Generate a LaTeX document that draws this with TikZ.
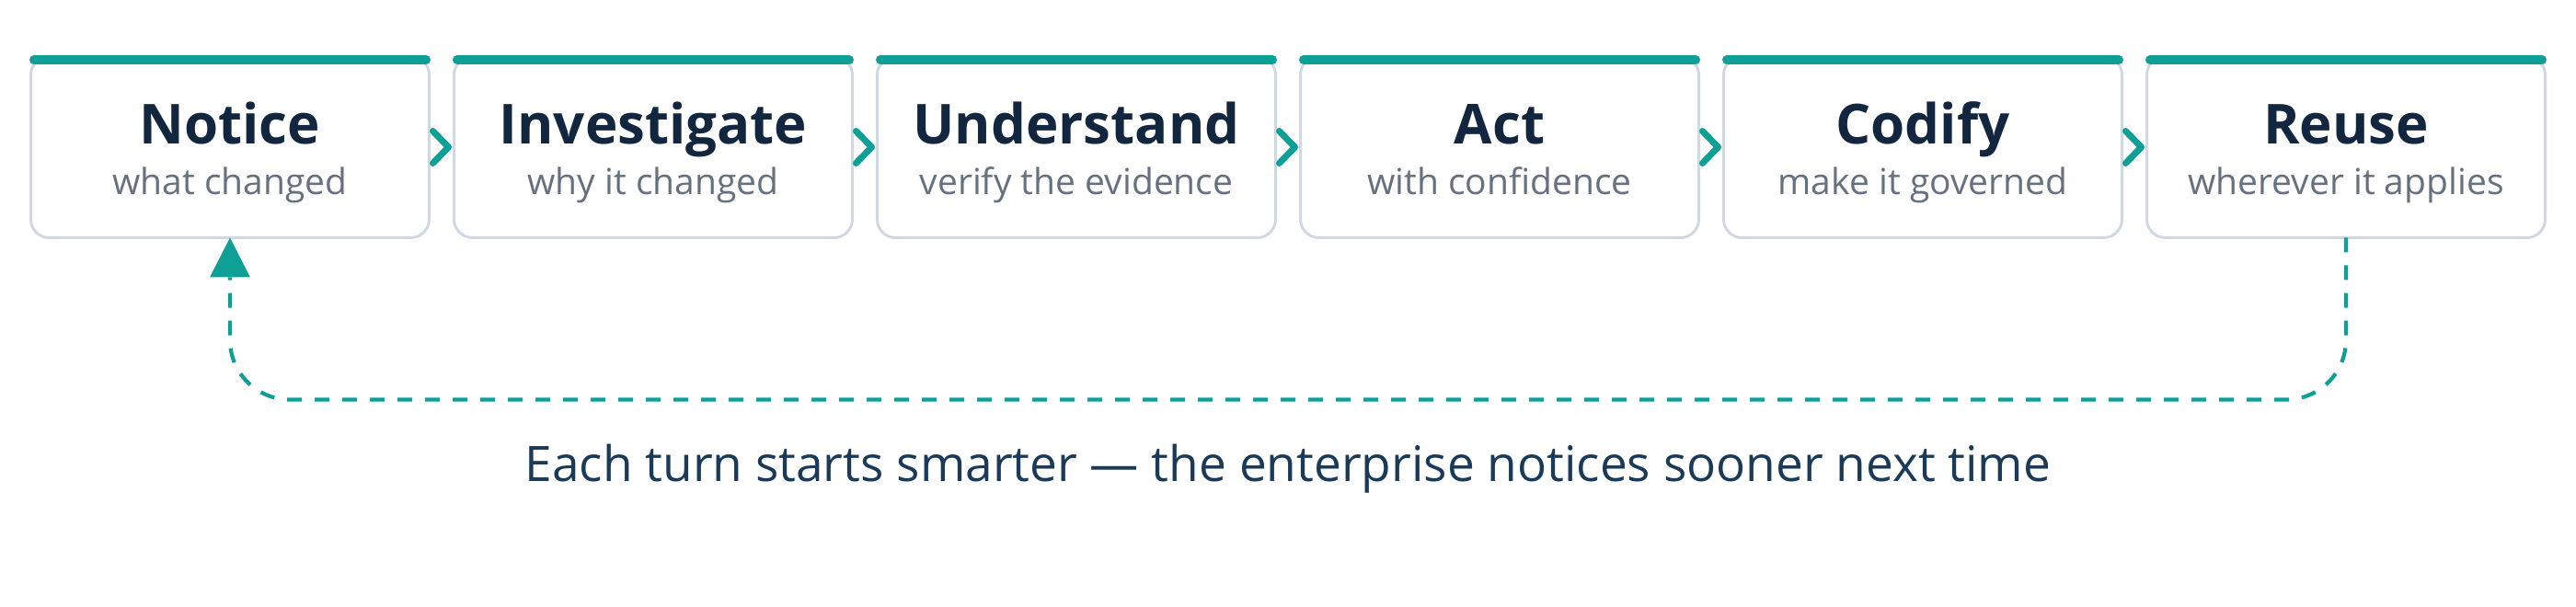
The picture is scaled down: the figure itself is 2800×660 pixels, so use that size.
\documentclass[tikz,border=0pt]{standalone}
\usepackage{fontspec}
\setmainfont{Open Sans}
\usepackage{tikz}
\usetikzlibrary{arrows.meta,positioning}
\definecolor{accent}{HTML}{0E9F97}
\definecolor{edge}{HTML}{CFD8E3}
\definecolor{ink}{HTML}{13263F}
\definecolor{muted}{HTML}{66717F}
\definecolor{note}{HTML}{1B3A57}

\begin{document}
\begin{tikzpicture}[x=1pt, y=1pt,
	stage/.style={draw=edge, line width=3pt, rounded corners=20pt, minimum width=433pt, minimum height=197pt, inner sep=0pt, outer sep=0pt, fill=white},
	topbar/.style={draw=accent, line width=10pt, line cap=round},
	headline/.style={anchor=base, inner sep=0pt, text=ink, font=\fontsize{60}{72}\selectfont\bfseries},
	subline/.style={anchor=base, inner sep=0pt, text=muted, font=\fontsize{39}{47}\selectfont},
	chev/.style={draw=accent, line width=7pt, line cap=round, line join=round},
	cycleback/.style={draw=accent, line width=4.2pt, dash pattern=on 16pt off 14pt, rounded corners=65pt, -{Triangle[width=44pt,length=43pt,line width=0pt]}},
	caption/.style={anchor=base, inner sep=0pt, text=note, font=\fontsize{53.2}{64}\selectfont}]
	\useasboundingbox (0,0) rectangle (2800,-660);
	% stages
	\node[stage] (s1) at (250,-160) {};
	\node[stage, right=27pt of s1] (s2) {};
	\node[stage, right=27pt of s2] (s3) {};
	\node[stage, right=27pt of s3] (s4) {};
	\node[stage, right=27pt of s4] (s5) {};
	\node[stage, right=27pt of s5] (s6) {};
	% top bars
	\draw[topbar] ([shift={(3.5,-3.5)}]s1.north west) -- ([shift={(-3.5,-3.5)}]s1.north east);
	\draw[topbar] ([shift={(3.5,-3.5)}]s2.north west) -- ([shift={(-3.5,-3.5)}]s2.north east);
	\draw[topbar] ([shift={(3.5,-3.5)}]s3.north west) -- ([shift={(-3.5,-3.5)}]s3.north east);
	\draw[topbar] ([shift={(3.5,-3.5)}]s4.north west) -- ([shift={(-3.5,-3.5)}]s4.north east);
	\draw[topbar] ([shift={(3.5,-3.5)}]s5.north west) -- ([shift={(-3.5,-3.5)}]s5.north east);
	\draw[topbar] ([shift={(3.5,-3.5)}]s6.north west) -- ([shift={(-3.5,-3.5)}]s6.north east);
	% labels
	\node[headline] (t1) at ([yshift=3pt]s1.center) {Notice};
	\node[subline] (d1) at ([yshift=-52pt]s1.center) {what changed};
	\node[headline] (t2) at ([yshift=3pt]s2.center) {Investigate};
	\node[subline] (d2) at ([yshift=-52pt]s2.center) {why it changed};
	\node[headline] (t3) at ([yshift=3pt]s3.center) {Understand};
	\node[subline] (d3) at ([yshift=-52pt]s3.center) {verify the evidence};
	\node[headline] (t4) at ([yshift=3pt]s4.center) {Act};
	\node[subline] (d4) at ([yshift=-52pt]s4.center) {with confidence};
	\node[headline] (t5) at ([yshift=3pt]s5.center) {Codify};
	\node[subline] (d5) at ([yshift=-52pt]s5.center) {make it governed};
	\node[headline] (t6) at ([yshift=3pt]s6.center) {Reuse};
	\node[subline] (d6) at ([yshift=-52pt]s6.center) {wherever it applies};
	% chevrons
	\draw[chev] ([shift={(4,17.5)}]s1.east) -- ([xshift=21pt]s1.east) -- ([shift={(4,-17.5)}]s1.east);
	\draw[chev] ([shift={(4,17.5)}]s2.east) -- ([xshift=21pt]s2.east) -- ([shift={(4,-17.5)}]s2.east);
	\draw[chev] ([shift={(4,17.5)}]s3.east) -- ([xshift=21pt]s3.east) -- ([shift={(4,-17.5)}]s3.east);
	\draw[chev] ([shift={(4,17.5)}]s4.east) -- ([xshift=21pt]s4.east) -- ([shift={(4,-17.5)}]s4.east);
	\draw[chev] ([shift={(4,17.5)}]s5.east) -- ([xshift=21pt]s5.east) -- ([shift={(4,-17.5)}]s5.east);
	% back to the start
	\coordinate (turn) at ([yshift=-176pt]s6.south);
	\draw[cycleback] (s6.south) -- (turn) -| (s1.south);
	\node[caption] (moral) at (1400,-523) {Each turn starts smarter — the enterprise notices sooner next time};
\end{tikzpicture}
\end{document}
